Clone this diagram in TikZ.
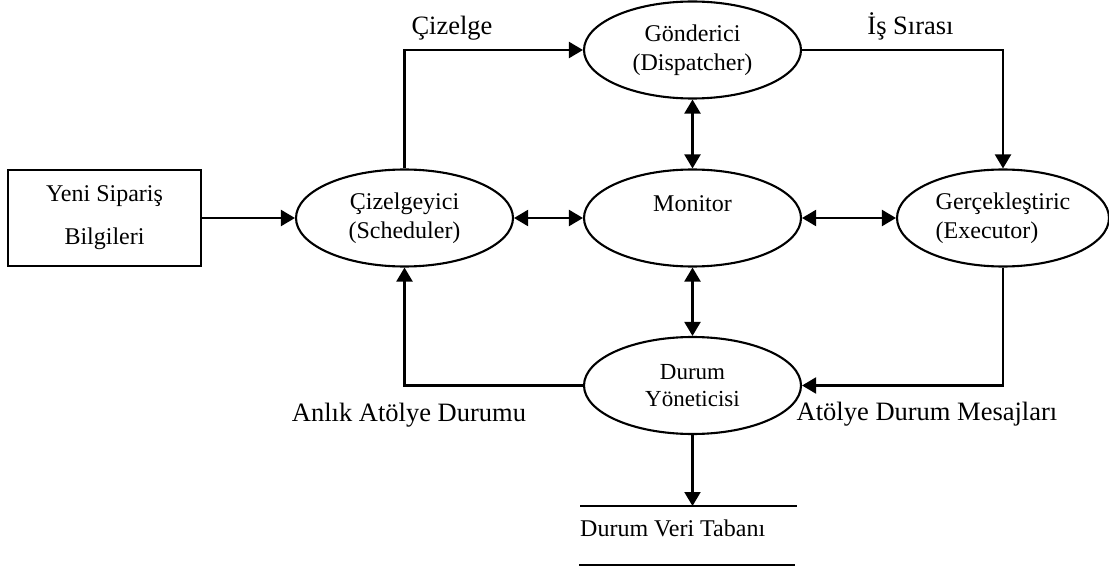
\documentclass[tikz,border=0pt]{standalone}
\usepackage{fontspec}
\setmainfont{Liberation Serif}
\usetikzlibrary{arrows.meta,shapes.geometric}

\tikzset{
  flow/.style={line width=2.1pt, -{Triangle[length=14pt,width=16pt]}},
  biflow/.style={line width=2.1pt, {Triangle[length=14pt,width=16pt]}-{Triangle[length=14pt,width=16pt]}},
  plain/.style={line width=2.1pt},
  proc/.style={ellipse, draw, line width=2.1pt, minimum width=217pt, minimum height=97pt,
    inner sep=0pt, align=center, font=\fontsize{24}{28.5}\selectfont},
  lbl/.style={anchor=base, font=\fontsize{26.5}{30}\selectfont, inner sep=0pt},
}

\begin{document}
\begin{tikzpicture}[x=1pt,y=-1pt]
\useasboundingbox (0,0) rectangle (1109,567);

% input box
\node[draw, line width=2.1pt, minimum width=193pt, minimum height=96pt, inner sep=0pt,
      align=center, font=\fontsize{24}{43}\selectfont] (order) at (104.5,218) {Yeni Sipariş\\Bilgileri};

% processes
\node[proc] (sched) at (404.5,218) {Çizelgeyici\\(Scheduler)};
\node[proc] (disp)  at (692.5,50)  {Gönderici\\(Dispatcher)};
\node[proc] (mon)   at (692.5,218) {Monitor\\\phantom{M}};
\node[proc, minimum width=212pt, align=left] (exec) at (1003,218) {Gerçekleştiric\\(Executor)};
\node[proc, font=\fontsize{23}{27}\selectfont] (dur) at (692.5,385.5) {Durum\\Yöneticisi};

% data store
\coordinate (dbTopL) at (580,506);
\coordinate (dbTopR) at (797,506);
\coordinate (dbBotL) at (579,565);
\coordinate (dbBotR) at (795,565);
\coordinate (dbIn)   at (692.5,506);
\node[anchor=base west, inner sep=0pt, font=\fontsize{24}{28}\selectfont] (db) at (580,536) {Durum Veri Tabanı};
\draw[plain] (dbTopL) -- (dbTopR);
\draw[plain] (dbBotL) -- (dbBotR);

% connectors
\draw[flow] (order.east) -- (sched.west);
\draw[flow] (sched.north) |- (disp.west);
\draw[flow] (disp.east) -| (exec.north);
\draw[biflow] (disp.south) -- (mon.north);
\draw[biflow] (sched.east) -- (mon.west);
\draw[biflow] (mon.east) -- (exec.west);
\draw[biflow] (mon.south) -- (dur.north);
\draw[flow] (dur.west) -| (sched.south);
\draw[flow] (exec.south) |- (dur.east);
\draw[flow] (dur.south) -- (dbIn);

% connector labels
\node[lbl] (lblPlan)  at (452,35)   {Çizelge};
\node[lbl] (lblQueue) at (910.5,35) {İş Sırası};
\node[lbl] (lblState) at (409,421)  {Anlık Atölye Durumu};
\node[lbl] (lblMsg)   at (927,420)  {Atölye Durum Mesajları};
\end{tikzpicture}
\end{document}
